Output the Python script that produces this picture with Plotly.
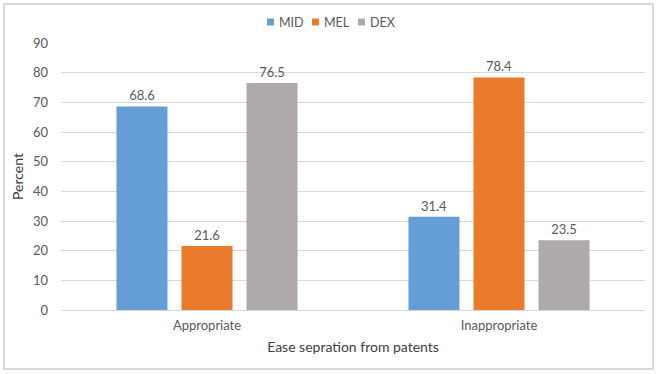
import plotly.graph_objects as go

categories = ["Appropriate", "Inappropriate"]
series_names = ["MID", "MEL", "DEX"]
mid_values = [68.6, 31.4]
mel_values = [21.6, 78.4]
dex_values = [76.5, 23.5]
colors = ["#659ED6", "#EB7B2C", "#ADAAA9"]
y_ticks = [0, 10, 20, 30, 40, 50, 60, 70, 80, 90]

FONT = "Lato"
TXT = "#595959"

fig = go.Figure()
for name, vals, col in zip(series_names, [mid_values, mel_values, dex_values], colors):
    fig.add_trace(go.Bar(
        name=name, x=categories, y=vals, marker_color=col, marker_line_width=0,
        text=[f"{v:.1f}" for v in vals], textposition="outside",
        textfont=dict(size=13, color=TXT, family=FONT), cliponaxis=False,
        showlegend=False,
    ))

L, R, T, B = 61, 12, 43, 64
W, H = 657, 374
pw, ph = W - L - R, H - T - B

def px(x):
    return (x - L) / pw

def py(y):
    return (H - B - y) / ph

# legend drawn as small squares + labels (pixel layout positions)
legend_x = [267, 312, 358]
legend_y = 22
shapes = [dict(type="rect", xref="paper", yref="paper",
               x0=px(4), x1=px(653), y0=py(369), y1=py(4),
               line=dict(color="#D9D9D9", width=2), fillcolor="rgba(0,0,0,0)", layer="below")]
annotations = []
for name, col, lx in zip(series_names, colors, legend_x):
    shapes.append(dict(type="rect", xref="paper", yref="paper",
                       x0=px(lx), x1=px(lx + 7), y0=py(legend_y + 3.5), y1=py(legend_y - 3.5),
                       line=dict(width=0), fillcolor=col))
    annotations.append(dict(text=name, xref="paper", yref="paper", x=px(lx + 10), y=py(legend_y),
                            xanchor="left", yanchor="middle", showarrow=False,
                            font=dict(size=12.5, color=TXT, family=FONT)))

fig.update_layout(
    width=W, height=H,
    margin=dict(l=L, r=R, t=T, b=B, autoexpand=False),
    paper_bgcolor="white", plot_bgcolor="white",
    barmode="group", bargap=0.332, bargroupgap=0.215,
    font=dict(family=FONT, color=TXT, size=13),
    showlegend=False,
    xaxis=dict(showline=False, ticks="", tickfont=dict(size=13, color=TXT), ticklabelstandoff=6,
               title=dict(text="Ease sepration from patents", font=dict(size=14, color="#404040"), standoff=10)),
    yaxis=dict(range=[0, 90], tickvals=y_ticks, showgrid=True, gridcolor="#D9D9D9", gridwidth=1,
               zeroline=True, zerolinecolor="#D9D9D9", zerolinewidth=1, showline=False, ticks="",
               tickfont=dict(size=13, color=TXT), ticklabelstandoff=12,
               title=dict(text="Percent", font=dict(size=14, color="#404040"), standoff=6)),
    shapes=shapes,
    annotations=annotations,
)

fig.write_html("out.html", config={"displayModeBar": False},
               post_script="document.body.style.margin='0';document.body.style.overflow='hidden';")
